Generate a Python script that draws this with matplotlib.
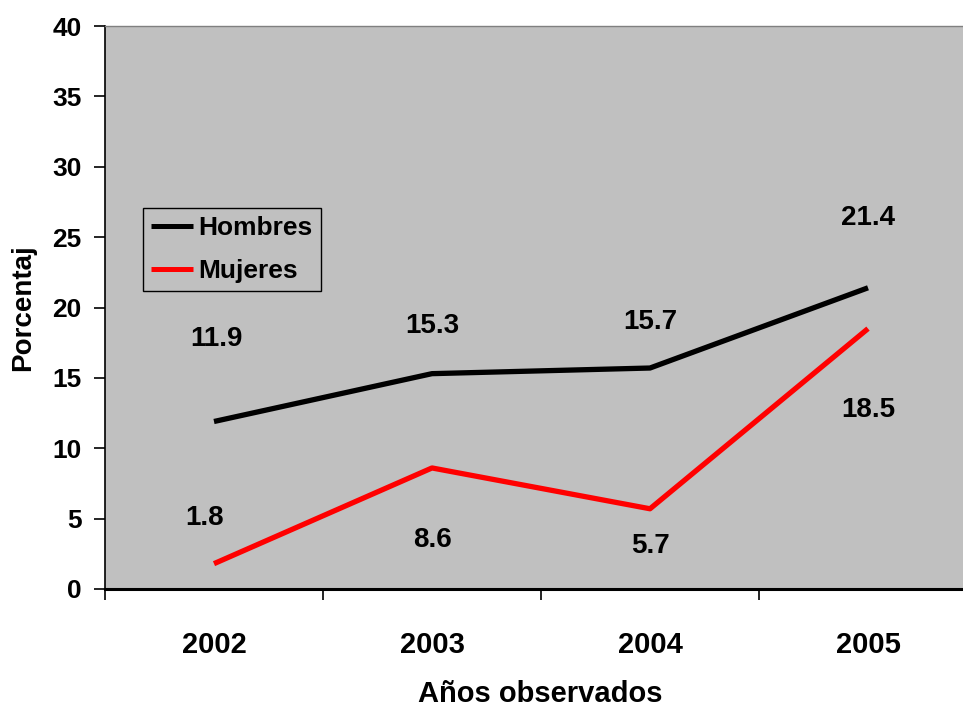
import matplotlib
matplotlib.use("Agg")
import matplotlib.pyplot as plt

years = ["2002", "2003", "2004", "2005"]
hombres = [11.9, 15.3, 15.7, 21.4]
mujeres = [1.8, 8.6, 5.7, 18.5]
yticks = [0, 5, 10, 15, 20, 25, 30, 35, 40]

# label offsets (pixels) relative to each point
off_h = [(2, 83), (0, 48), (0, 46), (0, 70)]
off_m = [(-9, 46), (0, -72), (0, -37), (0, -81)]

plt.rcParams["font.family"] = ["Liberation Sans", "DejaVu Sans"]
plt.rcParams["font.weight"] = "bold"

fig = plt.figure(figsize=(9.63, 7.11), dpi=100)
ax = fig.add_axes([105 / 963, 1 - 589 / 711, 872 / 963, 563 / 711])
ax.set_facecolor("#C0C0C0")

x = list(range(len(years)))
ax.plot(x, hombres, color="black", lw=3.8, label="Hombres", solid_capstyle="butt")
ax.plot(x, mujeres, color="#FF0000", lw=3.8, label="Mujeres", solid_capstyle="butt")

for xi, v, (dx, dy) in zip(x, hombres, off_h):
    ax.annotate(f"{v}", (xi, v), xytext=(dx, dy), textcoords="offset pixels",
                ha="center", va="center", fontsize=20, fontweight="bold")
for xi, v, (dx, dy) in zip(x, mujeres, off_m):
    ax.annotate(f"{v}", (xi, v), xytext=(dx, dy), textcoords="offset pixels",
                ha="center", va="center", fontsize=20, fontweight="bold")

ax.set_xlim(-0.5, 3.5)
ax.set_ylim(0, 40)
ax.set_yticks(yticks)
ax.set_yticklabels([str(t) for t in yticks], fontsize=19, fontweight="bold")
ax.set_xticks(x)
ax.set_xticklabels(years, fontsize=21, fontweight="bold")
ax.set_xticks([-0.5, 0.5, 1.5, 2.5], minor=True)
ax.tick_params(axis="x", which="major", length=0, pad=30)
ax.tick_params(axis="x", which="minor", length=8, width=1.2, direction="out")
ax.tick_params(axis="y", length=8, width=1.2, direction="out", pad=9)

ax.spines["left"].set_linewidth(1.2)
ax.spines["bottom"].set_linewidth(2.2)
ax.spines["top"].set_color("#808080")
ax.spines["top"].set_linewidth(1.0)
ax.spines["right"].set_visible(False)

ax.set_ylabel("Porcentaj", fontsize=20, fontweight="bold")
ax.set_xlabel("Años observados", fontsize=21, fontweight="bold")
ax.xaxis.set_label_coords((540 - 105) / 872, -(680 - 589) / 563)
ax.yaxis.set_label_coords(-(105 - 36) / 872, (589 - 308) / 563)

leg = ax.legend(loc="upper left", bbox_to_anchor=((143 - 105) / 872, (589 - 208) / 563),
                frameon=True, fancybox=False, framealpha=1, edgecolor="black",
                facecolor="#C0C0C0", fontsize=19, handlelength=1.6,
                handletextpad=0.2, borderpad=0.3, labelspacing=0.72, borderaxespad=0)
leg.get_frame().set_linewidth(1.0)
for line in leg.get_lines():
    line.set_linewidth(3.6)
for t in leg.get_texts():
    t.set_fontweight("bold")

fig.savefig("out.png", dpi=100)
